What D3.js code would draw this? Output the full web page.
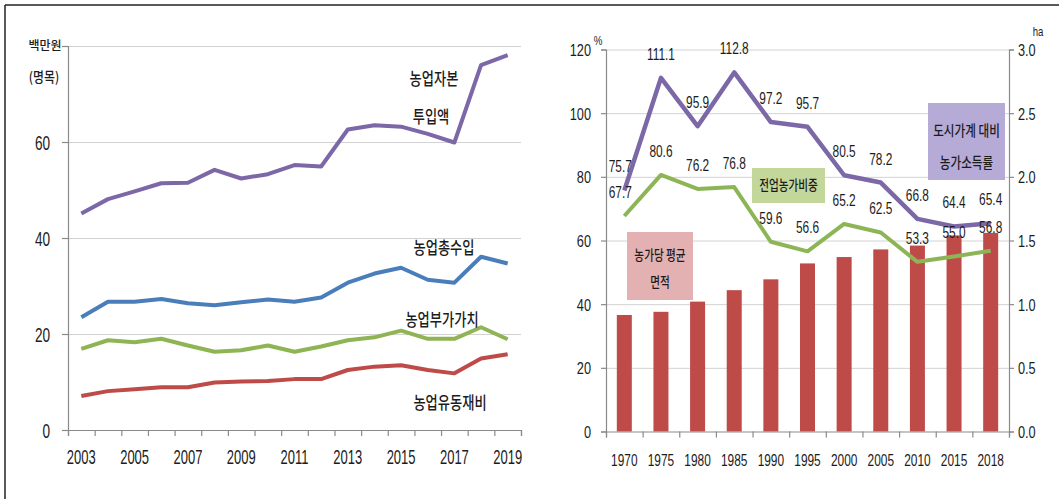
<!DOCTYPE html>
<html>
<head>
<meta charset="utf-8">
<script src="https://cdn.jsdelivr.net/npm/d3@7"></script>
<style>
    body { margin: 0; background: #fff; }
    svg text { fill: #1c1c1c; }
    .kr { font-family: "Noto Sans CJK KR", sans-serif; font-weight: 500; }
    .num { font-family: "Liberation Sans", Arial, sans-serif; }
    .grid line { stroke: #d2d2d2; stroke-width: 1; }
    .grid .domain { display: none; }
    .axis .domain, .axis line { stroke: #8a8a8a; stroke-width: 1.2; }
</style>
</head>
<body>
<svg id="chart" width="1059" height="499"></svg>
<script>
// left panel: 2003-2019, 백만원 (명목)
const yearsA = ["2003", "2004", "2005", "2006", "2007", "2008", "2009", "2010", "2011",
    "2012", "2013", "2014", "2015", "2016", "2017", "2018", "2019"];
const capitalInput = [45.1, 48.1, 49.7, 51.4, 51.5, 54.2, 52.4, 53.3, 55.2, 54.9, 62.6, 63.5, 63.2, 61.7, 59.9, 76.0, 78.1];
const totalRevenue = [23.5, 26.7, 26.7, 27.3, 26.4, 26.0, 26.6, 27.2, 26.7, 27.6, 30.7, 32.6, 33.8, 31.3, 30.7, 36.1, 34.7];
const valueAdded = [16.9, 18.7, 18.3, 19.0, 17.6, 16.3, 16.6, 17.6, 16.3, 17.4, 18.7, 19.3, 20.7, 19.0, 19.0, 21.4, 18.9];
const circulating = [7.1, 8.1, 8.5, 8.9, 8.9, 9.9, 10.1, 10.2, 10.6, 10.6, 12.5, 13.2, 13.5, 12.5, 11.8, 14.9, 15.8];
const leftTicks = [0, 20, 40, 60, 80];

// right panel: 1970-2018
const yearsB = ["1970", "1975", "1980", "1985", "1990", "1995", "2000", "2005", "2010", "2015", "2018"];
const incomeRatio = [75.7, 111.1, 95.9, 112.8, 97.2, 95.7, 80.5, 78.2, 66.8, 64.4, 65.4];
const fullTimeShare = [67.7, 80.6, 76.2, 76.8, 59.6, 56.6, 65.2, 62.5, 53.3, 55.0, 56.8];
const farmArea = [0.915, 0.94, 1.02, 1.11, 1.195, 1.32, 1.37, 1.43, 1.46, 1.54, 1.56];
const pctTicks = [0, 20, 40, 60, 80, 100, 120];
const haTicks = [0, 0.5, 1, 1.5, 2, 2.5, 3];

const svg = d3.select("#chart");

function label(g, x, y, str, o = {}) {
    return g.append("text")
        .attr("class", o.cls || "kr")
        .attr("transform", `translate(${x},${y}) scale(${o.sx || 1},1)`)
        .attr("text-anchor", o.anchor || "middle")
        .attr("dy", "0.35em")
        .attr("font-size", o.size || 16)
        .text(str);
}

// squeeze axis labels horizontally like the original
function squeeze(axisG, sx, size, x, y) {
    axisG.selectAll(".tick text")
        .attr("class", "num")
        .attr("font-size", size)
        .attr("fill", "#1c1c1c")
        .attr("transform", `scale(${sx},1)`)
        .attr("x", x / sx)
        .attr("y", y)
        .attr("dy", "0.35em");
}

// frame
svg.append("line").attr("x1", 5).attr("y1", 5).attr("x2", 1059).attr("y2", 5)
    .attr("stroke", "#222").attr("stroke-width", 1.5);
svg.append("line").attr("x1", 5).attr("y1", 5).attr("x2", 5).attr("y2", 499)
    .attr("stroke", "#222").attr("stroke-width", 1.5);

// ---------- left chart ----------
const xA = d3.scaleBand().domain(yearsA).range([68, 521]);
const xAedge = d3.scaleLinear().domain([0, yearsA.length]).range([68, 521]);
const yA = d3.scaleLinear().domain([0, 80]).range([430, 46]);
const left = svg.append("g");

left.append("g").attr("class", "grid")
    .attr("transform", "translate(68,0)")
    .call(d3.axisLeft(yA).tickValues(leftTicks.slice(1)).tickSize(-453).tickFormat(""));

const yAxisA = left.append("g").attr("class", "axis")
    .attr("transform", "translate(68,0)")
    .call(d3.axisLeft(yA).tickValues(leftTicks).tickSize(6).tickFormat(d => d === 80 ? "" : d));
squeeze(yAxisA, 0.68, 20, -18, 0);

left.append("g").attr("class", "axis")
    .attr("transform", "translate(0,430)")
    .call(d3.axisBottom(xAedge).ticks(yearsA.length).tickSize(6).tickFormat(""));

const xAxisA = left.append("g").attr("class", "axis")
    .attr("transform", "translate(0,430)")
    .call(d3.axisBottom(xA).tickSize(0).tickFormat((d, i) => i % 2 === 0 ? d : ""));
xAxisA.select(".domain").remove();
squeeze(xAxisA, 0.65, 20, 0, 27);

const lineA = d3.line()
    .x((d, i) => xA(yearsA[i]) + xA.bandwidth() / 2)
    .y(d => yA(d));

const seriesA = [
    {values: capitalInput, color: "#7c67a7"},
    {values: totalRevenue, color: "#4a7ebb"},
    {values: valueAdded, color: "#8fb454"},
    {values: circulating, color: "#be4b48"}
];
left.selectAll("path.series")
    .data(seriesA)
    .join("path")
    .attr("class", "series")
    .attr("d", d => lineA(d.values))
    .attr("fill", "none")
    .attr("stroke", d => d.color)
    .attr("stroke-width", 4)
    .attr("stroke-linejoin", "round");

label(left, 45, 46, "백만원", {size: 12, sx: 1});
label(left, 44, 77, "(명목)", {size: 14, sx: 0.85});
label(left, 434, 79, "농업자본", {size: 17, sx: 0.78});
label(left, 431, 117, "투입액", {size: 17, sx: 0.78});
label(left, 444, 248, "농업총수입", {size: 17, sx: 0.78});
label(left, 442, 320, "농업부가가치", {size: 17, sx: 0.78});
label(left, 450, 403, "농업유동재비", {size: 17, sx: 0.78});

// ---------- right chart ----------
const xB = d3.scaleBand().domain(yearsB).range([606, 1009]);
const xBedge = d3.scaleLinear().domain([0, yearsB.length]).range([606, 1009]);
const yB = d3.scaleLinear().domain([0, 120]).range([431.5, 49.5]);
const yHa = d3.scaleLinear().domain([0, 3]).range([431.5, 49.5]);
const right = svg.append("g");
const cx = d => xB(d) + xB.bandwidth() / 2;

right.append("g").attr("class", "grid")
    .attr("transform", "translate(606,0)")
    .call(d3.axisLeft(yB).tickValues(pctTicks.slice(1)).tickSize(-403).tickFormat(""));

// farm area bars (ha, right axis)
const barW = 15;
right.selectAll("rect.bar")
    .data(farmArea)
    .join("rect")
    .attr("class", "bar")
    .attr("x", (d, i) => cx(yearsB[i]) - barW / 2)
    .attr("y", d => yHa(d))
    .attr("width", barW)
    .attr("height", d => yHa(0) - yHa(d))
    .attr("fill", "#be4b48");

const yAxisB = right.append("g").attr("class", "axis")
    .attr("transform", "translate(606,0)")
    .call(d3.axisLeft(yB).tickValues(pctTicks).tickSize(5));
squeeze(yAxisB, 0.75, 17, -15, 0);

const yAxisHa = right.append("g").attr("class", "axis")
    .attr("transform", "translate(1009,0)")
    .call(d3.axisRight(yHa).tickValues(haTicks).tickSize(5).tickFormat(d3.format(".1f")));
yAxisHa.selectAll(".tick text").attr("text-anchor", "start");
squeeze(yAxisHa, 0.75, 17, 9, 0);

right.append("g").attr("class", "axis")
    .attr("transform", "translate(0,431.5)")
    .call(d3.axisBottom(xBedge).ticks(yearsB.length).tickSize(6).tickFormat(""));

const xAxisB = right.append("g").attr("class", "axis")
    .attr("transform", "translate(0,431.5)")
    .call(d3.axisBottom(xB).tickSize(0));
xAxisB.select(".domain").remove();
squeeze(xAxisB, 0.7, 17, 0, 28.5);

const lineB = d3.line()
    .x((d, i) => cx(yearsB[i]))
    .y(d => yB(d));

const seriesB = [
    {values: fullTimeShare, color: "#8db556", width: 4},
    {values: incomeRatio, color: "#7c67a7", width: 4.5}
];
right.selectAll("path.series")
    .data(seriesB)
    .join("path")
    .attr("class", "series")
    .attr("d", d => lineB(d.values))
    .attr("fill", "none")
    .attr("stroke", d => d.color)
    .attr("stroke-width", d => d.width)
    .attr("stroke-linejoin", "round");

// value labels, sitting above each point
seriesB.forEach(s => {
    s.values.forEach((v, i) => {
        label(right, cx(yearsB[i]) - (i === 0 ? 4 : 0), yB(v) - 24, v.toFixed(1),
            {cls: "num", size: 17, sx: 0.7});
    });
});

label(right, 598, 40, "%", {cls: "num", size: 13, sx: 0.75});
label(right, 1038, 32, "ha", {cls: "num", size: 12, sx: 0.8});

// callout boxes
right.append("rect").attr("x", 928).attr("y", 103).attr("width", 77).attr("height", 77)
    .attr("fill", "#b6aad6");
label(right, 966.5, 131, "도시가계 대비", {size: 14.5, sx: 0.8});
label(right, 966.5, 163, "농가소득률", {size: 14.5, sx: 0.8});

right.append("rect").attr("x", 752).attr("y", 168).attr("width", 73).attr("height", 35)
    .attr("fill", "#c4d79b");
label(right, 788.5, 185, "전업농가비중", {size: 14, sx: 0.76});

right.append("rect").attr("x", 627).attr("y", 232).attr("width", 66).attr("height", 68)
    .attr("fill", "#e4b1b2");
label(right, 660, 255, "농가당 평균", {size: 14, sx: 0.76});
label(right, 660, 282, "면적", {size: 14, sx: 0.76});
</script>
</body>
</html>
